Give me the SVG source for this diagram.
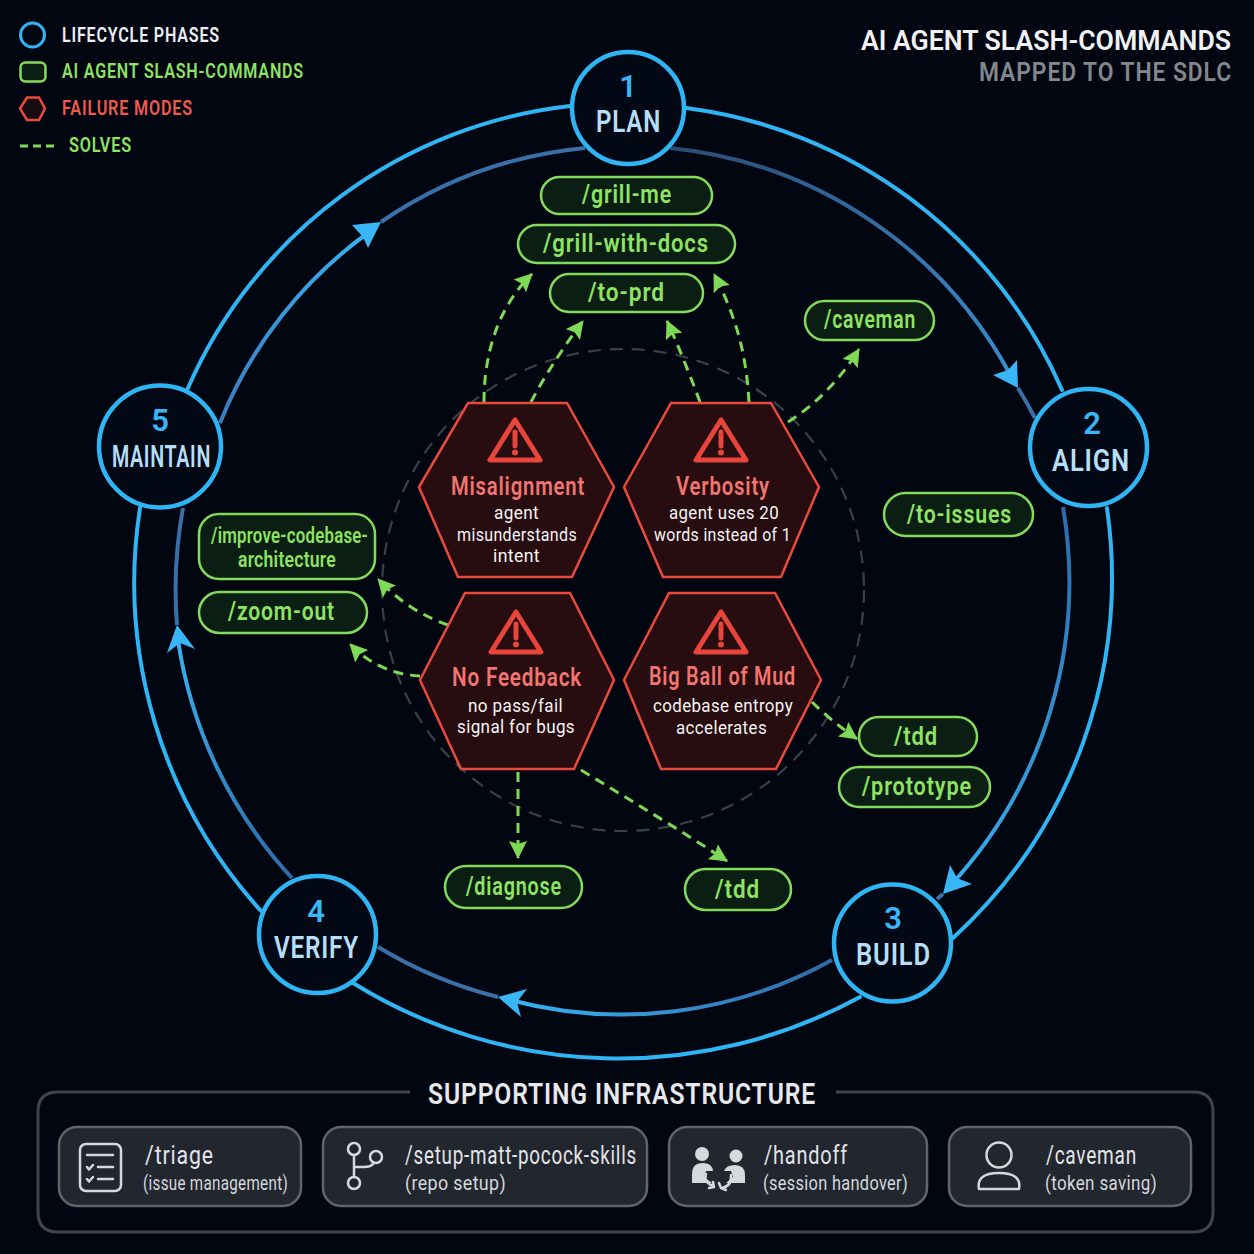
<svg xmlns="http://www.w3.org/2000/svg" width="1254" height="1254" viewBox="0 0 1254 1254">
<style>
text{font-family:"Roboto","Liberation Sans",sans-serif;font-weight:600;letter-spacing:1px}
.ring{fill:none;stroke:#2fb4f4;stroke-width:4;stroke-linecap:round}
.tail{fill:none;stroke:#3a70a8;stroke-width:4}
.inner{fill:none;stroke-width:4}
.head{fill:#38b6f6}
.phase{fill:#030914;stroke:#2fb4f4;stroke-width:4.5}
.num{fill:#38b6f5;font-size:31px;text-anchor:middle;letter-spacing:0}
.pname{fill:#b5dff9;font-size:31px}
.pill{fill:#0a1e13;stroke:#84da5c;stroke-width:2.5}
.pt{fill:#8ee364;font-size:25px}
.hex{fill:#270c10;stroke:#ea4a3e;stroke-width:2.5}
.warn{fill:none;stroke:#e8453c;stroke-width:5;stroke-linejoin:round}
.bar{fill:none;stroke:#e8453c;stroke-width:5;stroke-linecap:round}
.ht{fill:#f27470;font-size:25px}
.hs{fill:#f4f4f4;font-size:19px;font-weight:400;letter-spacing:.4px}
.sol{fill:none;stroke:#7ed957;stroke-width:3;stroke-dasharray:10 7;marker-end:url(#ga)}
.box{fill:#22262f;stroke:#5f646d;stroke-width:2.5}
.bt{fill:#e2e4e7;font-size:25px;font-weight:400}
.bs{fill:#d5d8dc;font-size:20px;font-weight:400;letter-spacing:.4px}
.ic{fill:none;stroke:#d5d8dc;stroke-width:2.5;stroke-linecap:round;stroke-linejoin:round}
.icf{fill:#d5d8dc}
</style>
<defs>
<marker id="ga" markerUnits="userSpaceOnUse" markerWidth="20" markerHeight="20" refX="17" refY="9" orient="auto"><path d="M0,0 L18,9 L0,18 L3,9 Z" fill="#7ed957"/></marker>
<linearGradient id="g1" gradientUnits="userSpaceOnUse" x1="670" y1="148" x2="1018" y2="388"><stop offset="0" stop-color="#2b4a72"/><stop offset="1" stop-color="#3a8fd0"/></linearGradient>
<linearGradient id="g2" gradientUnits="userSpaceOnUse" x1="1063" y1="507" x2="943" y2="894"><stop offset="0" stop-color="#2f6aa8"/><stop offset="1" stop-color="#38b0f0"/></linearGradient>
<linearGradient id="g3" gradientUnits="userSpaceOnUse" x1="832" y1="960" x2="498" y2="997"><stop offset="0" stop-color="#2f6aa8"/><stop offset="1" stop-color="#38b6f5"/></linearGradient>
<linearGradient id="g4" gradientUnits="userSpaceOnUse" x1="292" y1="878" x2="177" y2="625"><stop offset="0" stop-color="#2f6aa8"/><stop offset="1" stop-color="#38b6f5"/></linearGradient>
<linearGradient id="g5" gradientUnits="userSpaceOnUse" x1="220" y1="423" x2="381" y2="222"><stop offset="0" stop-color="#3a7cc0"/><stop offset="1" stop-color="#38b6f5"/></linearGradient>
</defs>
<rect width="1254" height="1254" fill="#020611"/>

<g id="legend">
<circle cx="32.5" cy="35" r="12" fill="none" stroke="#2fb4f4" stroke-width="3"/>
<text x="62" y="42" font-size="20" fill="#eceef2" textLength="158" lengthAdjust="spacingAndGlyphs">LIFECYCLE PHASES</text>
<rect x="20.5" y="62.5" width="25" height="19" rx="5" fill="#0a1e13" stroke="#84da5c" stroke-width="2.5"/>
<text x="62" y="78" font-size="20" fill="#8ee364" textLength="242" lengthAdjust="spacingAndGlyphs">AI AGENT SLASH-COMMANDS</text>
<path d="M20,108.500 L27,97.500 L39,97.500 L45,108.500 L39,120 L27,120 Z" fill="#170c12" stroke="#ea4a3e" stroke-width="2.5"/>
<text x="62" y="115" font-size="20" fill="#ef5a50" textLength="131" lengthAdjust="spacingAndGlyphs">FAILURE MODES</text>
<path d="M20,146 H55" stroke="#7ed957" stroke-width="3" stroke-dasharray="8 5" fill="none"/>
<text x="69" y="152" font-size="20" fill="#8ee364" textLength="63" lengthAdjust="spacingAndGlyphs">SOLVES</text>
</g>

<g id="title">
<text x="861" y="50" font-size="28" style="letter-spacing:0" fill="#f0f1f3" textLength="370" lengthAdjust="spacingAndGlyphs">AI AGENT SLASH-COMMANDS</text>
<text x="979" y="81" font-size="25" fill="#83878e" textLength="253" lengthAdjust="spacingAndGlyphs">MAPPED TO THE SDLC</text>
</g>

<g id="connectors">
<circle cx="623" cy="590" r="241" fill="none" stroke="#3a4049" stroke-width="2.200" stroke-dasharray="13 9"/>
<g id="cycle">
<path class="ring" d="M686,108 A476,476 0 0 1 1062,390"/>
<path class="ring" d="M1107,508 A489,489 0 0 1 953,938"/>
<path class="ring" d="M860,997 A505,505 0 0 1 353,983"/>
<path class="ring" d="M261,911 A489,489 0 0 1 140,508"/>
<path class="ring" d="M188,388 A476,476 0 0 1 570,106"/>
<path class="inner" stroke="url(#g1)" d="M670,148 A436,436 0 0 1 1012,378"/>
<path class="tail" d="M1018,388 A440,440 0 0 1 1035,418"/>
<path class="inner" stroke="url(#g2)" d="M1063,507 A447,447 0 0 1 950,886"/>
<path class="tail" d="M943,894 L937,899"/>
<path class="inner" stroke="url(#g3)" d="M832,960 A434,434 0 0 1 510,1000"/>
<path class="tail" d="M498,997 A436,436 0 0 1 378,947"/>
<path class="inner" stroke="url(#g4)" d="M292,878 A447,447 0 0 1 178,640"/>
<path class="tail" d="M177,625 A447,447 0 0 1 183,508"/>
<path class="inner" stroke="url(#g5)" d="M220,423 A433,433 0 0 1 372,230"/>
<path class="tail" d="M381,222 A433,433 0 0 1 585,148"/>
<path class="head" d="M381,222 L352,225 L363,237 L368,248 Z"/>
<path class="head" d="M1018,388 L993,375 L1008,370 L1017,360 Z"/>
<path class="head" d="M943,894 L950,865 L957,878 L972,884 Z"/>
<path class="head" d="M498,997 L527,989 L517,1002 L521,1017 Z"/>
<path class="head" d="M177,625 L167,653 L180,643 L195,649 Z"/>
</g>
<g id="solves">
<path class="sol" d="M484,402 C484,350 500,305 532,274"/>
<path class="sol" d="M531,402 C545,375 565,345 583,321"/>
<path class="sol" d="M700,402 C690,375 678,345 667,321"/>
<path class="sol" d="M749,402 C746,350 735,315 714,274"/>
<path class="sol" d="M788,422 C815,405 840,380 859,349"/>
<path class="sol" d="M448,625 C425,617 400,603 378,579"/>
<path class="sol" d="M420,676 C395,675 370,665 350,644"/>
<path class="sol" d="M518,772 V858"/>
<path class="sol" d="M581,770 C630,800 680,830 727,861"/>
<path class="sol" d="M812,702 C825,715 840,727 857,739"/>
</g>
</g>

<g id="phase-plan"><circle class="phase" cx="628" cy="108" r="56"/><text class="num" x="628" y="97">1</text><text class="pname" x="596" y="132" textLength="65" lengthAdjust="spacingAndGlyphs">PLAN</text></g>
<g id="phase-align"><circle class="phase" cx="1088.500" cy="447.500" r="58.500"/><text class="num" x="1092" y="434">2</text><text class="pname" x="1052" y="471" textLength="78" lengthAdjust="spacingAndGlyphs">ALIGN</text></g>
<g id="phase-build"><circle class="phase" cx="892.500" cy="943" r="58.500"/><text class="num" x="893" y="929">3</text><text class="pname" x="856" y="965" textLength="75" lengthAdjust="spacingAndGlyphs">BUILD</text></g>
<g id="phase-verify"><circle class="phase" cx="317.500" cy="934.500" r="58.500"/><text class="num" x="316" y="922">4</text><text class="pname" x="274" y="958" textLength="85" lengthAdjust="spacingAndGlyphs">VERIFY</text></g>
<g id="phase-maintain"><circle class="phase" cx="160" cy="446.500" r="61"/><text class="num" x="160" y="431">5</text><text class="pname" x="112" y="467" textLength="99" lengthAdjust="spacingAndGlyphs">MAINTAIN</text></g>

<g id="cmd-grill-me"><rect class="pill" x="541" y="177" width="171" height="37" rx="18.500"/><text class="pt" x="582" y="203" textLength="90" lengthAdjust="spacingAndGlyphs">/grill-me</text></g>
<g id="cmd-grill-with-docs"><rect class="pill" x="518" y="225" width="217" height="38" rx="19"/><text class="pt" x="543" y="252" textLength="166" lengthAdjust="spacingAndGlyphs">/grill-with-docs</text></g>
<g id="cmd-to-prd"><rect class="pill" x="550" y="274" width="153" height="38" rx="19"/><text class="pt" x="588" y="301" textLength="77" lengthAdjust="spacingAndGlyphs">/to-prd</text></g>
<g id="cmd-caveman"><rect class="pill" x="805" y="301" width="129" height="39" rx="19.500"/><text class="pt" x="824" y="328" textLength="92" lengthAdjust="spacingAndGlyphs">/caveman</text></g>
<g id="cmd-to-issues"><rect class="pill" x="884" y="493" width="149" height="43" rx="21.500"/><text class="pt" x="907" y="523" textLength="105" lengthAdjust="spacingAndGlyphs">/to-issues</text></g>
<g id="cmd-tdd-a"><rect class="pill" x="859" y="717" width="118" height="39" rx="19.500"/><text class="pt" x="894" y="745" textLength="44" lengthAdjust="spacingAndGlyphs">/tdd</text></g>
<g id="cmd-prototype"><rect class="pill" x="839" y="767" width="151" height="40" rx="20"/><text class="pt" x="862" y="795" textLength="110" lengthAdjust="spacingAndGlyphs">/prototype</text></g>
<g id="cmd-tdd-b"><rect class="pill" x="685" y="869" width="106" height="41" rx="20.500"/><text class="pt" x="715" y="898" textLength="45" lengthAdjust="spacingAndGlyphs">/tdd</text></g>
<g id="cmd-diagnose"><rect class="pill" x="445" y="866" width="137" height="42" rx="21"/><text class="pt" x="466" y="895" textLength="96" lengthAdjust="spacingAndGlyphs">/diagnose</text></g>
<g id="cmd-improve"><rect class="pill" x="199" y="514" width="176" height="65" rx="20"/><text class="pt" x="211" y="543" style="font-size:22px;letter-spacing:.3px" textLength="157" lengthAdjust="spacingAndGlyphs">/improve-codebase-</text><text class="pt" x="238" y="567" style="font-size:22px;letter-spacing:.3px" textLength="98" lengthAdjust="spacingAndGlyphs">architecture</text></g>
<g id="cmd-zoom-out"><rect class="pill" x="199" y="592" width="168" height="41" rx="20.500"/><text class="pt" x="228" y="620" textLength="107" lengthAdjust="spacingAndGlyphs">/zoom-out</text></g>

<g id="fail-misalignment"><path class="hex" d="M419,487 L468,403 H567 L614,487 L572,577 H458 Z"/>
<path class="warn" d="M515,420 L490,460 H540 Z"/><path class="bar" d="M515,432 V446"/><circle cx="515" cy="452.500" r="3" fill="#e8453c"/>
<text class="ht" x="451" y="495" textLength="134" lengthAdjust="spacingAndGlyphs">Misalignment</text>
<text class="hs" x="494" y="519" textLength="45" lengthAdjust="spacingAndGlyphs">agent</text><text class="hs" x="457" y="541" textLength="120" lengthAdjust="spacingAndGlyphs">misunderstands</text><text class="hs" x="493" y="562" textLength="47" lengthAdjust="spacingAndGlyphs">intent</text></g>
<g id="fail-verbosity"><path class="hex" d="M624,487 L671,403 H771 L819,487 L781,577 H663 Z"/>
<path class="warn" d="M721,420 L696,460 H746 Z"/><path class="bar" d="M721,432 V446"/><circle cx="721" cy="452.500" r="3" fill="#e8453c"/>
<text class="ht" x="676" y="495" textLength="94" lengthAdjust="spacingAndGlyphs">Verbosity</text>
<text class="hs" x="669" y="519" textLength="110" lengthAdjust="spacingAndGlyphs">agent uses 20</text><text class="hs" x="654" y="541" textLength="137" lengthAdjust="spacingAndGlyphs">words instead of 1</text></g>
<g id="fail-no-feedback"><path class="hex" d="M420,680 L465,593 H570 L614,680 L574,769 H461 Z"/>
<path class="warn" d="M516,612 L491,652 H541 Z"/><path class="bar" d="M516,624 V638"/><circle cx="516" cy="644.500" r="3" fill="#e8453c"/>
<text class="ht" x="452" y="686" textLength="130" lengthAdjust="spacingAndGlyphs">No Feedback</text>
<text class="hs" x="468" y="712" textLength="95" lengthAdjust="spacingAndGlyphs">no pass/fail</text><text class="hs" x="457" y="733" textLength="118" lengthAdjust="spacingAndGlyphs">signal for bugs</text></g>
<g id="fail-big-ball-of-mud"><path class="hex" d="M624,680 L669,593 H775 L821,680 L776,769 H661 Z"/>
<path class="warn" d="M721,612 L696,652 H746 Z"/><path class="bar" d="M721,624 V638"/><circle cx="721" cy="644.500" r="3" fill="#e8453c"/>
<text class="ht" x="649" y="685" textLength="147" lengthAdjust="spacingAndGlyphs">Big Ball of Mud</text>
<text class="hs" x="653" y="712" textLength="140" lengthAdjust="spacingAndGlyphs">codebase entropy</text><text class="hs" x="676" y="734" textLength="91" lengthAdjust="spacingAndGlyphs">accelerates</text></g>

<g id="infrastructure">
<path d="M410,1092 H58 Q38,1092 38,1112 V1212 Q38,1232 58,1232 H1193 Q1213,1232 1213,1212 V1112 Q1213,1092 1193,1092 H836" fill="none" stroke="#3f454e" stroke-width="3"/>
<text x="428" y="1104" font-size="29" fill="#e6e8eb" textLength="388" lengthAdjust="spacingAndGlyphs">SUPPORTING INFRASTRUCTURE</text>
<g id="infra-triage"><rect class="box" x="59" y="1127" width="242" height="79" rx="18"/>
<rect class="ic" x="80" y="1144" width="41" height="47" rx="6"/><path class="ic" d="M87,1155 H113 M98,1167 H113 M98,1179 H113 M87,1167 L89,1169.500 L93,1165 M87,1179 L89,1181.500 L93,1177" stroke-width="2"/>
<text class="bt" x="145" y="1164" textLength="69" lengthAdjust="spacingAndGlyphs">/triage</text><text class="bs" x="143" y="1190" textLength="145" lengthAdjust="spacingAndGlyphs">(issue management)</text></g>
<g id="infra-setup"><rect class="box" x="323" y="1127" width="324" height="79" rx="18"/>
<circle class="ic" cx="354" cy="1149" r="6"/><circle class="ic" cx="354" cy="1183" r="6"/><circle class="ic" cx="376" cy="1157" r="6"/><path class="ic" d="M354,1155 V1177 M354,1167 H364 Q371,1167 374,1163"/>
<text class="bt" x="405" y="1164" textLength="232" lengthAdjust="spacingAndGlyphs">/setup-matt-pocock-skills</text><text class="bs" x="405" y="1190" textLength="101" lengthAdjust="spacingAndGlyphs">(repo setup)</text></g>
<g id="infra-handoff"><rect class="box" x="669" y="1127" width="258" height="79" rx="18"/>
<circle class="icf" cx="702" cy="1154" r="7"/><circle class="icf" cx="736" cy="1156" r="6.500"/>
<path class="icf" d="M692,1183 V1174 Q692,1163 703,1163 Q712,1163 713,1171 L706,1171 L704,1177 L712,1183 Z"/>
<path class="icf" d="M745,1183 V1175 Q745,1165 735,1165 Q726,1165 724,1171 L731,1171 L733,1177 L726,1183 Z"/>
<path class="ic" d="M706,1174 Q703,1182 713,1186 M722,1188 Q732,1186 731,1175 M709,1188 L714,1187 L713,1182 M719,1183 L721,1188 L726,1190" stroke-width="2"/>
<text class="bt" x="764" y="1164" textLength="84" lengthAdjust="spacingAndGlyphs">/handoff</text><text class="bs" x="763" y="1190" textLength="145" lengthAdjust="spacingAndGlyphs">(session handover)</text></g>
<g id="infra-caveman"><rect class="box" x="949" y="1127" width="242" height="79" rx="18"/>
<circle class="ic" cx="999" cy="1155" r="12.500"/><path class="ic" d="M979,1189 Q976,1173 999,1173 Q1022,1173 1019,1189 Z"/>
<text class="bt" x="1046" y="1164" textLength="91" lengthAdjust="spacingAndGlyphs">/caveman</text><text class="bs" x="1045" y="1190" textLength="112" lengthAdjust="spacingAndGlyphs">(token saving)</text></g>
</g>
</svg>
